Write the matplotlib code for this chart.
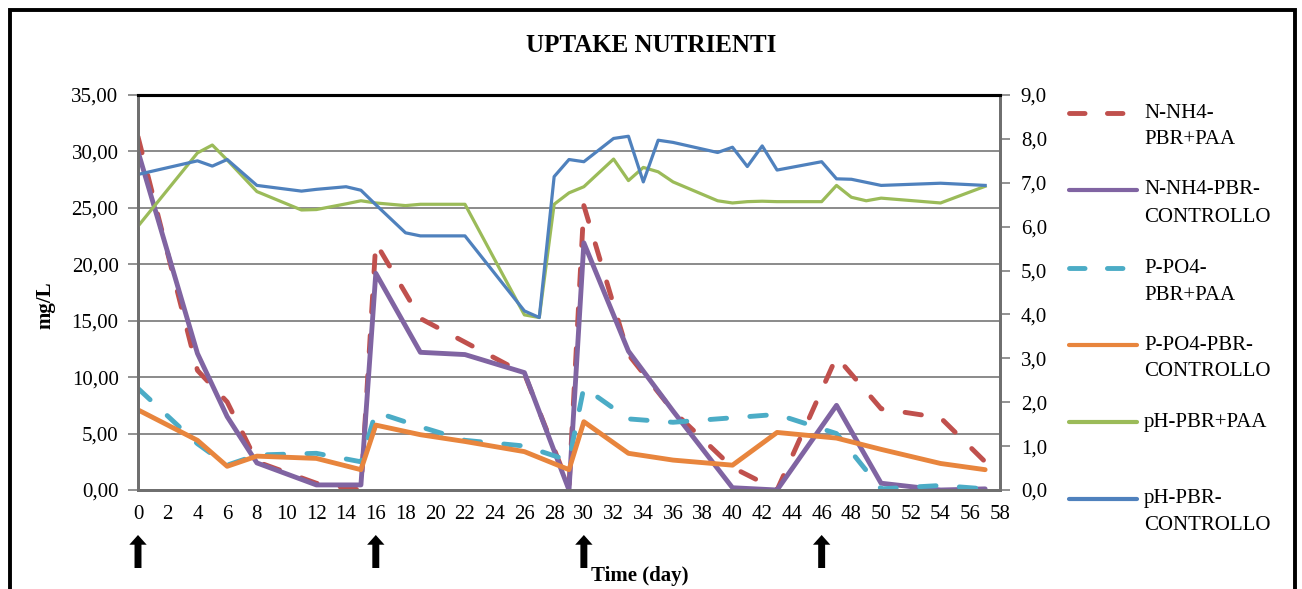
import numpy as np
import matplotlib
matplotlib.use("Agg")
import matplotlib.pyplot as plt
from matplotlib.lines import Line2D
from matplotlib.patches import Rectangle
from matplotlib.ticker import FuncFormatter

plt.rcParams['font.family'] = ['Liberation Serif', 'DejaVu Serif']

# sampling days
days_n = [0, 4, 6, 8, 12, 15, 16, 19, 22, 26, 29, 30, 33, 36, 40, 43, 47, 50, 54, 57]
days_ph = [0, 4, 5, 6, 8, 11, 12, 14, 15, 16, 18, 19, 22, 26, 27, 28, 29, 30, 32, 33,
           34, 35, 36, 39, 40, 41, 42, 43, 46, 47, 48, 49, 50, 54, 57]

# nutrients (mg/L)
nh4_paa = [31.3, 10.6, 7.8, 2.5, 0.6, 0.0, 21.9, 15.2, 13.1, 10.3, 0.3, 25.2, 12.0, 7.0,
           2.0, 0.0, 11.8, 7.2, 6.4, 2.5]
nh4_ctrl = [30.0, 12.1, 6.5, 2.4, 0.45, 0.45, 19.2, 12.2, 12.0, 10.4, 0.0, 21.9, 12.3, 7.0,
            0.2, 0.0, 7.5, 0.6, 0.0, 0.1]
po4_paa = [9.0, 4.1, 2.2, 3.1, 3.25, 2.5, 6.9, 5.6, 4.4, 3.9, 2.6, 9.1, 6.3, 6.0,
           6.4, 6.7, 5.0, 0.1, 0.4, 0.1]
po4_ctrl = [7.1, 4.4, 2.1, 3.0, 2.8, 1.8, 5.75, 4.9, 4.3, 3.4, 1.8, 6.05, 3.25, 2.65,
            2.2, 5.1, 4.6, 3.6, 2.35, 1.8]

# pH
ph_paa = [6.01, 7.68, 7.86, 7.52, 6.80, 6.38, 6.39, 6.52, 6.59, 6.54, 6.48, 6.51, 6.51, 3.99,
          3.93, 6.51, 6.77, 6.91, 7.54, 7.05, 7.35, 7.25, 7.02, 6.59, 6.54, 6.57, 6.58, 6.57,
          6.57, 6.94, 6.67, 6.59, 6.65, 6.54, 6.92]
ph_ctrl = [7.19, 7.50, 7.38, 7.53, 6.94, 6.81, 6.85, 6.91, 6.83, 6.50, 5.86, 5.79, 5.79, 4.08,
           3.93, 7.14, 7.53, 7.48, 8.01, 8.06, 7.02, 7.97, 7.92, 7.69, 7.81, 7.37, 7.84, 7.29,
           7.48, 7.09, 7.08, 7.01, 6.94, 6.99, 6.94]

feed_days = [0, 16, 30, 46]

labels = ['N-NH4-\nPBR+PAA', 'N-NH4-PBR-\nCONTROLLO', 'P-PO4-\nPBR+PAA',
          'P-PO4-PBR-\nCONTROLLO', 'pH-PBR+PAA', 'pH-PBR-\nCONTROLLO']
colors = ['#C0504D', '#8064A2', '#4BACC6', '#E8853D', '#9BBB59', '#4F81BD']

W, H = 1302, 589
fig = plt.figure(figsize=(W / 100, H / 100), dpi=100)
ax = fig.add_axes([138 / W, 1 - 490 / H, 862 / W, 395 / H])

dash = (3.4, 4.8)
nut_lw = 3.5
ph_lw = 2.3
ax.plot(days_n, nh4_paa, color=colors[0], lw=nut_lw, dashes=dash, dash_capstyle='round')
ax.plot(days_n, nh4_ctrl, color=colors[1], lw=nut_lw, solid_capstyle='round', solid_joinstyle='round')
ax.plot(days_n, po4_paa, color=colors[2], lw=nut_lw, dashes=dash, dash_capstyle='round')
ax.plot(days_n, po4_ctrl, color=colors[3], lw=nut_lw, solid_capstyle='round', solid_joinstyle='round')

ax.set_xlim(0, 58)
ax.set_ylim(0, 35)
ax.set_xticks(np.arange(0, 59, 2))
ax.set_yticks(np.arange(0, 36, 5))
ax.yaxis.set_major_formatter(FuncFormatter(lambda v, p: f"{v:.2f}".replace('.', ',')))
ax.grid(axis='y', color='#8a8a8a', lw=1.4)
ax.set_axisbelow(True)
ax.tick_params(axis='x', length=0, pad=11, labelsize=15)
ax.tick_params(axis='y', length=7, width=1.2, color='#7f7f7f', pad=7, labelsize=15)

ax2 = ax.twinx()
ax2.plot(days_ph, ph_paa, color=colors[4], lw=ph_lw)
ax2.plot(days_ph, ph_ctrl, color=colors[5], lw=ph_lw)
ax2.set_ylim(0, 9)
ax2.set_yticks(np.arange(0, 10, 1))
ax2.yaxis.set_major_formatter(FuncFormatter(lambda v, p: f"{v:.1f}".replace('.', ',')))
ax2.tick_params(axis='y', length=7, width=1.2, color='#7f7f7f', pad=8, labelsize=15)

for a in (ax, ax2):
    for s in ('left', 'right', 'bottom'):
        a.spines[s].set_color('#6f6f6f')
        a.spines[s].set_linewidth(2.0)
    a.spines['top'].set_color('black')
    a.spines['top'].set_linewidth(2.2)

# feeding arrows under the axis
for d in feed_days:
    ax.annotate('', xy=(d, (490 - 535) / 395), xytext=(d, (490 - 568) / 395),
                xycoords=('data', 'axes fraction'), textcoords=('data', 'axes fraction'),
                arrowprops=dict(width=5, headwidth=12.5, headlength=7, facecolor='black',
                                edgecolor='black', lw=0, shrink=0),
                annotation_clip=False)

fig.text(651 / W, 1 - 45 / H, 'UPTAKE NUTRIENTI', ha='center', va='center',
         fontsize=18, fontweight='bold')
fig.text(45 / W, 1 - 305 / H, 'mg/L', ha='center', va='center', rotation=90,
         fontsize=15, fontweight='bold')
fig.text(640 / W, 1 - 576 / H, 'Time (day)', ha='center', va='center',
         fontsize=15, fontweight='bold')

# legend drawn by hand so the handle sits on the first text line
row_y = [113, 190, 268, 345, 422, 499]
for i, (lab, c, y) in enumerate(zip(labels, colors, row_y)):
    yy = 1 - y / H
    kw = dict(color=c, lw=3.0, solid_capstyle='round')
    if i in (0, 2):
        kw = dict(color=c, lw=3.5, dashes=(3.2, 4.6), dash_capstyle='round')
    fig.add_artist(Line2D([1069 / W, 1137 / W], [yy, yy], transform=fig.transFigure, **kw))
    for k, part in enumerate(lab.split('\n')):
        fig.text(1144 / W, 1 - (y + 27 * k) / H, part, ha='left', va='center', fontsize=15)

# outer frame
fig.add_artist(Rectangle((10 / W, -0.05), 1285 / W, 1.05 - 10 / H, transform=fig.transFigure,
                         fill=False, edgecolor='black', lw=2.8))

fig.savefig('out.png', dpi=100)
